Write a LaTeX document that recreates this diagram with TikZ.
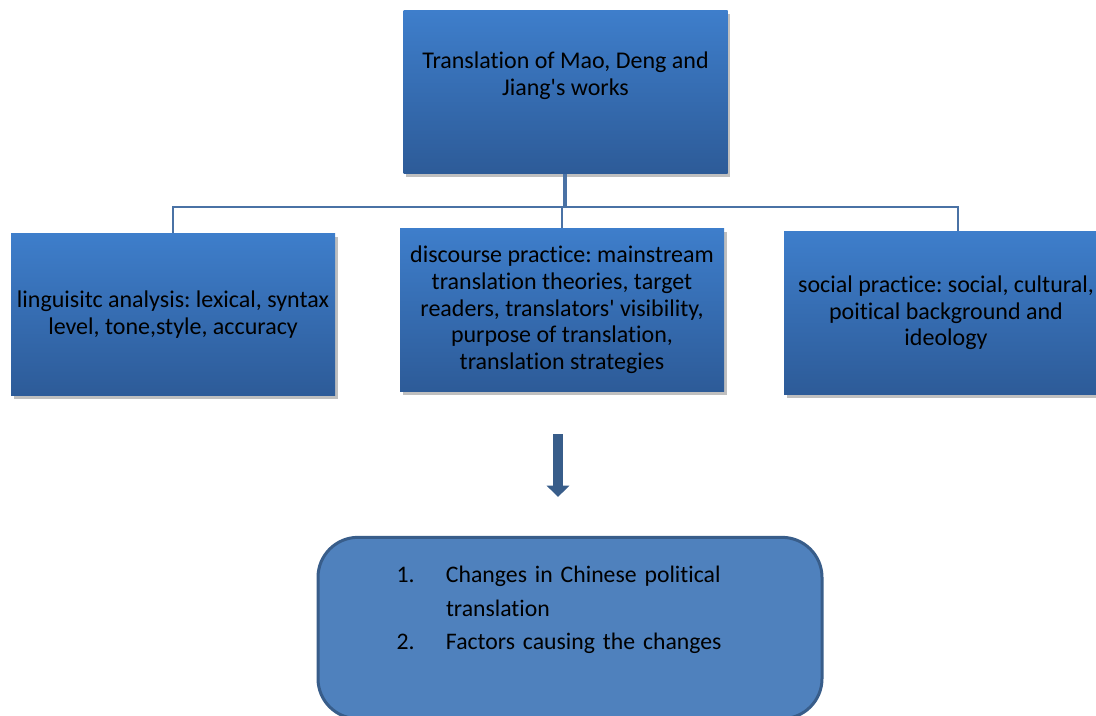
\documentclass[tikz,border=0pt]{standalone}
\usepackage{fontspec}
\setmainfont[Ligatures=NoCommon]{Carlito}
\usetikzlibrary{arrows.meta,shadows}

\definecolor{boxtop}{RGB}{62,126,203}
\definecolor{boxbot}{RGB}{45,91,152}
\definecolor{linkblue}{RGB}{74,114,165}
\definecolor{darkblue}{RGB}{56,93,138}
\definecolor{listfill}{RGB}{79,129,189}

\tikzset{
  bluebox/.style={rectangle, top color=boxtop, bottom color=boxbot,
    minimum width=243pt, minimum height=122pt, align=center, inner sep=1pt,
    font=\fontsize{18pt}{20pt}\selectfont,
    drop shadow={shadow xshift=2pt, shadow yshift=-2.5pt, opacity=0.25, fill=black}},
  listbox/.style={rectangle, rounded corners=30pt, fill=listfill, draw=darkblue,
    line width=2.25pt, minimum width=378pt, minimum height=136pt,
    text width=260pt, align=left,
    font=\fontsize{17.8pt}{25pt}\selectfont},
  bus/.style={draw=linkblue, line width=1.3pt},
  trunk/.style={draw=linkblue, line width=2.5pt},
  bigarrow/.style={draw=darkblue, line width=7.5pt, -{Triangle[width=16.5pt,length=8.5pt]}}
}

\begin{document}
\frenchspacing
\begin{tikzpicture}[x=0.75pt, y=-0.75pt]
  \useasboundingbox (0,0) rectangle (1096,715);
  \clip (0,0) rectangle (1096,715);
  % top box
  \node[bluebox, text depth=28pt] (works) at (565.5,92) {Translation of Mao, Deng and\\Jiang\textquotesingle s works};
  % three levels
  \node[bluebox] (linguistic) at (173,314.5) {linguisitc analysis: lexical, syntax\\level, tone,style, accuracy};
  \node[bluebox] (discourse) at (562,310) {discourse practice: mainstream\\translation theories, target\\readers, translators\textquotesingle{} visibility,\\purpose of translation,\\translation strategies};
  \node[bluebox] (social) at (946,313) {social practice: social, cultural,\\poitical background and\\ideology};
  % connectors
  \coordinate (hub) at (565,207);
  \draw[trunk] (works.south -| hub) -- (hub);
  \draw[bus] (linguistic.north) |- ([xshift=9pt]social.north |- hub) -- ([xshift=9pt]social.north);
  \draw[bus] (hub -| discourse.north) -- (discourse.north);
  % arrow down
  \coordinate (arrowtop) at (558,434);
  \coordinate (arrowtip) at (558,497);
  \draw[bigarrow] (arrowtop) -- (arrowtip);
  % result box
  \node[listbox, text depth=80pt] (changes) at (570,628)
    {\makebox[37pt][l]{1.}Changes in Chinese political\\
     \hspace*{37pt}translation\\
     \makebox[37pt][l]{2.}Factors causing the changes};
\end{tikzpicture}
\end{document}
